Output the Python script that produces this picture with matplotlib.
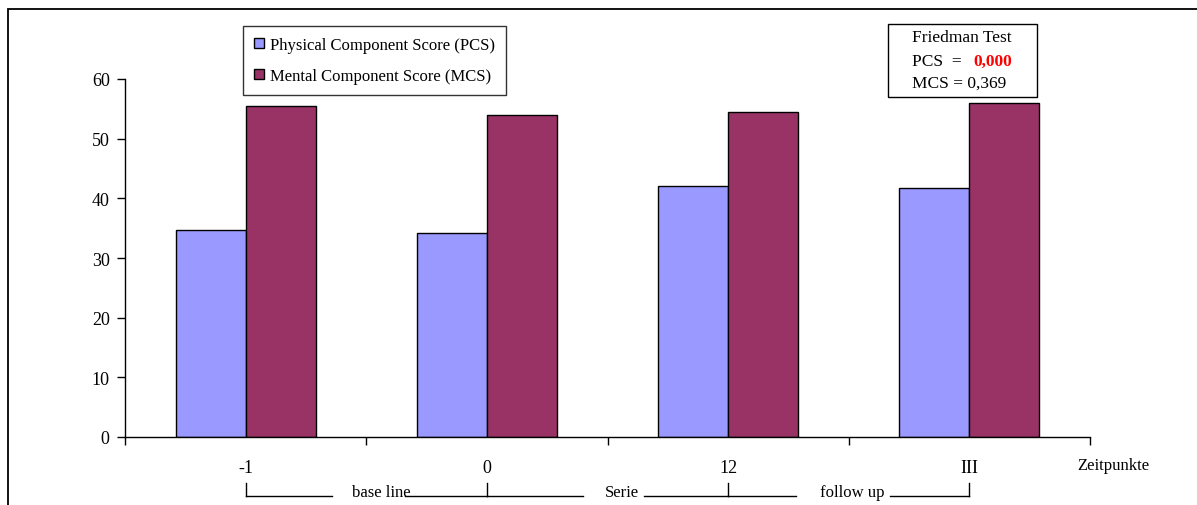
import matplotlib
matplotlib.use("Agg")
import matplotlib.pyplot as plt
import matplotlib.transforms as mtransforms
from matplotlib.patches import Rectangle
import numpy as np

plt.rcParams['font.family'] = ['Liberation Serif', 'DejaVu Serif']

# SF-36 summary scores per time point
zeitpunkte = ["-1", "0", "12", "III"]
pcs = [34.7, 34.2, 42.0, 41.7]
mcs = [55.5, 54.0, 54.4, 56.0]
serien_labels = ["Physical Component Score (PCS)", "Mental Component Score (MCS)"]
friedman_pcs = "0,000"
friedman_mcs = "0,369"
phasen = ["base line", "Serie", "follow up"]

pcs_color = "#9999FF"
mcs_color = "#993366"

fig = plt.figure(figsize=(11.97, 5.06), dpi=100)
W, H = 1197.0, 506.0
ax = fig.add_axes([125 / W, 1 - 438 / H, 965 / W, 358 / H])

x = np.arange(len(zeitpunkte))
w = 0.29
b1 = ax.bar(x - w / 2, pcs, w, color=pcs_color, edgecolor="black", linewidth=1.0, label=serien_labels[0])
b2 = ax.bar(x + w / 2, mcs, w, color=mcs_color, edgecolor="black", linewidth=1.0, label=serien_labels[1])

ax.set_xlim(-0.5, len(zeitpunkte) - 0.5)
ax.set_ylim(0, 60)
ax.set_yticks(range(0, 61, 10))
ax.tick_params(axis="y", direction="out", length=6, width=1, pad=5, labelsize=13)

# boundaries get the tick marks, centres get the labels
ax.set_xticks(np.arange(-0.5, len(zeitpunkte), 1.0))
ax.set_xticklabels([])
ax.tick_params(axis="x", which="major", direction="out", length=6, width=1)
ax.set_xticks(x, minor=True)
ax.set_xticklabels(zeitpunkte, minor=True)
ax.tick_params(axis="x", which="minor", length=0, pad=16, labelsize=13)

for s in ["top", "right"]:
    ax.spines[s].set_visible(False)
for s in ["left", "bottom"]:
    ax.spines[s].set_linewidth(1.0)

fig.text(1077 / W, 1 - 466 / H, "Zeitpunkte", fontsize=12, ha="left", va="center")

leg = fig.legend(handles=[b1, b2], loc="upper left", bbox_to_anchor=(243 / W, 1 - 27 / H),
                 fontsize=12, frameon=True, fancybox=False, shadow=False,
                 handlelength=0.6, handleheight=0.6, handletextpad=0.4,
                 labelspacing=0.9, borderpad=0.65, borderaxespad=0)
leg.get_frame().set_edgecolor("black")
leg.get_frame().set_linewidth(1.0)

# Friedman test box
fig.patches.append(Rectangle((888 / W, 1 - 98 / H), 149 / W, 73 / H, transform=fig.transFigure,
                             facecolor="white", edgecolor="black", linewidth=1.0))
fig.text(962 / W, 1 - 38 / H, "Friedman Test", fontsize=12.5, ha="center", va="center")
fig.text(912 / W, 1 - 62 / H, "PCS  =", fontsize=12.5, ha="left", va="center")
fig.text(973 / W, 1 - 62 / H, friedman_pcs, fontsize=12.5, ha="left", va="center",
         color="red", fontweight="bold")
fig.text(912 / W, 1 - 84 / H, "MCS = " + friedman_mcs, fontsize=12.5, ha="left", va="center")

# phase brackets below the time points
tr = mtransforms.blended_transform_factory(ax.transData, fig.transFigure)
y_line = 1 - 497 / H
y_top = 1 - 484 / H
for xi in x:
    ax.plot([xi, xi], [y_top, y_line], color="black", lw=1.0, transform=tr, clip_on=False)
segs = [(0.0, 0.36, 0.44, 0.66), (0.0, 0.40, 0.49, 0.65), (0.0, 0.28, 0.38, 0.67)]
for i, (name, (a, b, t, c)) in enumerate(zip(phasen, segs)):
    ax.plot([i + a, i + b], [y_line, y_line], color="black", lw=1.0, transform=tr, clip_on=False)
    ax.plot([i + c, i + 1], [y_line, y_line], color="black", lw=1.0, transform=tr, clip_on=False)
    ax.text(i + t, y_line, name, fontsize=12, ha="left", va="baseline", transform=tr)

# outer chart frame
fig.patches.append(Rectangle((8 / W, -0.05), 1.1, 1.05 - 10 / H, transform=fig.transFigure,
                             facecolor="none", edgecolor="black", linewidth=1.3))

fig.savefig("out.png", dpi=100)
